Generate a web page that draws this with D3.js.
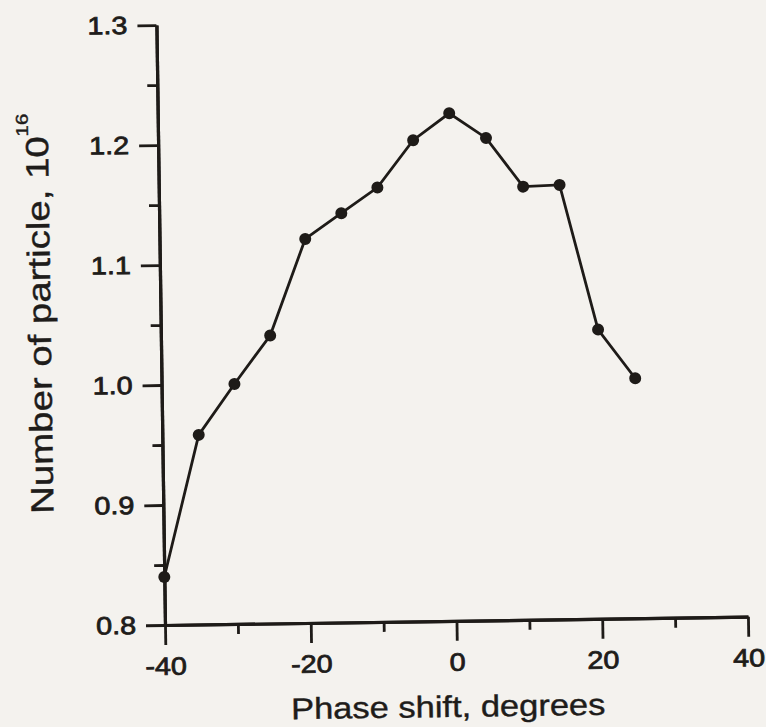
<!DOCTYPE html>
<html>
<head>
<meta charset="utf-8">
<script src="https://cdn.jsdelivr.net/npm/d3@7"></script>
<style>
  html, body { margin: 0; padding: 0; background: #f4f2ee; }
  svg { display: block; }
  text { font-family: "Liberation Sans", Arial, Helvetica, sans-serif; fill: #1e1c1a; }
</style>
</head>
<body>
<svg id="chart" width="766" height="727"></svg>
<script>
// ---- data ----
const phaseShift = [-40, -35, -30, -25, -20, -15, -10, -5, 0, 5, 10, 15, 20, 25];
const particles  = [0.84, 0.958, 1.0, 1.04, 1.12, 1.141, 1.162, 1.201, 1.223, 1.202, 1.161, 1.162, 1.041, 1.0];
const xMajorTicks = [-40, -20, 0, 20, 40];
const xMinorTicks = [-30, -10, 10, 30];
const yMajorTicks = [0.8, 0.9, 1.0, 1.1, 1.2, 1.3];
const yMinorTicks = [0.85, 0.95, 1.05, 1.15, 1.25];
const xTitle = "Phase shift, degrees";
const yTitle = "Number of particle, 10";
const yTitleExp = "16";

// ---- layout ----
const W = 583, H = 600;
const ink = "#1e1b18";
const labelStretch = 1.15;

const svg = d3.select("#chart");
svg.append("rect").attr("width", 766).attr("height", 727).attr("fill", "#f4f2ee");

// the scanned figure is slightly rotated
const g = svg.append("g").attr("transform", "translate(165,625) rotate(-0.82)");

const x = d3.scaleLinear().domain([-40, 40]).range([0, W]);
const y = d3.scaleLinear().domain([0.8, 1.3]).range([0, -H]);

function styleAxis(sel) {
  sel.select(".domain").attr("stroke", ink).attr("stroke-width", 3.2);
  sel.selectAll(".tick line").attr("stroke", ink).attr("stroke-width", 2.8);
}

// minor ticks
const xMinor = g.append("g").call(d3.axisBottom(x).tickValues(xMinorTicks).tickSize(10).tickSizeOuter(0).tickFormat(""));
styleAxis(xMinor);
const yMinor = g.append("g").call(d3.axisLeft(y).tickValues(yMinorTicks).tickSize(10).tickSizeOuter(0).tickFormat(""));
styleAxis(yMinor);

// major axes
const hyphenFmt = d => String(d).replace("\u2212", "-");
const xAxis = g.append("g").call(d3.axisBottom(x).tickValues(xMajorTicks).tickSize(20).tickSizeOuter(0).tickPadding(12).tickFormat(hyphenFmt));
styleAxis(xAxis);
xAxis.selectAll(".tick text")
  .attr("font-size", 25).attr("fill", "#1e1c1a")
  .attr("stroke", "#1e1c1a").attr("stroke-width", 0.8)
  .attr("font-family", "'Liberation Sans', Arial, sans-serif")
  .attr("transform", `scale(${labelStretch},1)`);

const yAxis = g.append("g").call(d3.axisLeft(y).tickValues(yMajorTicks).tickSize(19).tickSizeOuter(0).tickPadding(10).tickFormat(d3.format(".1f")));
styleAxis(yAxis);
yAxis.selectAll(".tick text")
  .attr("font-size", 25).attr("fill", "#1e1c1a")
  .attr("stroke", "#1e1c1a").attr("stroke-width", 0.8)
  .attr("font-family", "'Liberation Sans', Arial, sans-serif")
  .attr("x", -(19 + 10) / labelStretch)
  .attr("transform", `scale(${labelStretch},1)`);

// line + markers
const line = d3.line().x((d, i) => x(phaseShift[i])).y(d => y(d));
g.append("path").datum(particles)
  .attr("d", line).attr("fill", "none").attr("stroke", ink).attr("stroke-width", 2.8);
g.selectAll("circle.pt").data(particles).join("circle")
  .attr("class", "pt")
  .attr("cx", (d, i) => x(phaseShift[i]))
  .attr("cy", d => y(d))
  .attr("r", 6)
  .attr("fill", ink);

// axis titles
g.append("text")
  .attr("transform", `translate(282,96) scale(1.15,1)`)
  .attr("text-anchor", "middle")
  .attr("font-size", 30)
  .attr("stroke", "#1e1c1a").attr("stroke-width", 0.4)
  .text(xTitle);

const yt = g.append("text")
  .attr("transform", `translate(-110,-313) rotate(-90) scale(1.2,1)`)
  .attr("text-anchor", "middle")
  .attr("font-size", 32)
  .attr("stroke", "#1e1c1a").attr("stroke-width", 0.4);
yt.append("tspan").text(yTitle);
yt.append("tspan").attr("font-size", 17).attr("dy", -20).text(yTitleExp);
</script>
</body>
</html>
